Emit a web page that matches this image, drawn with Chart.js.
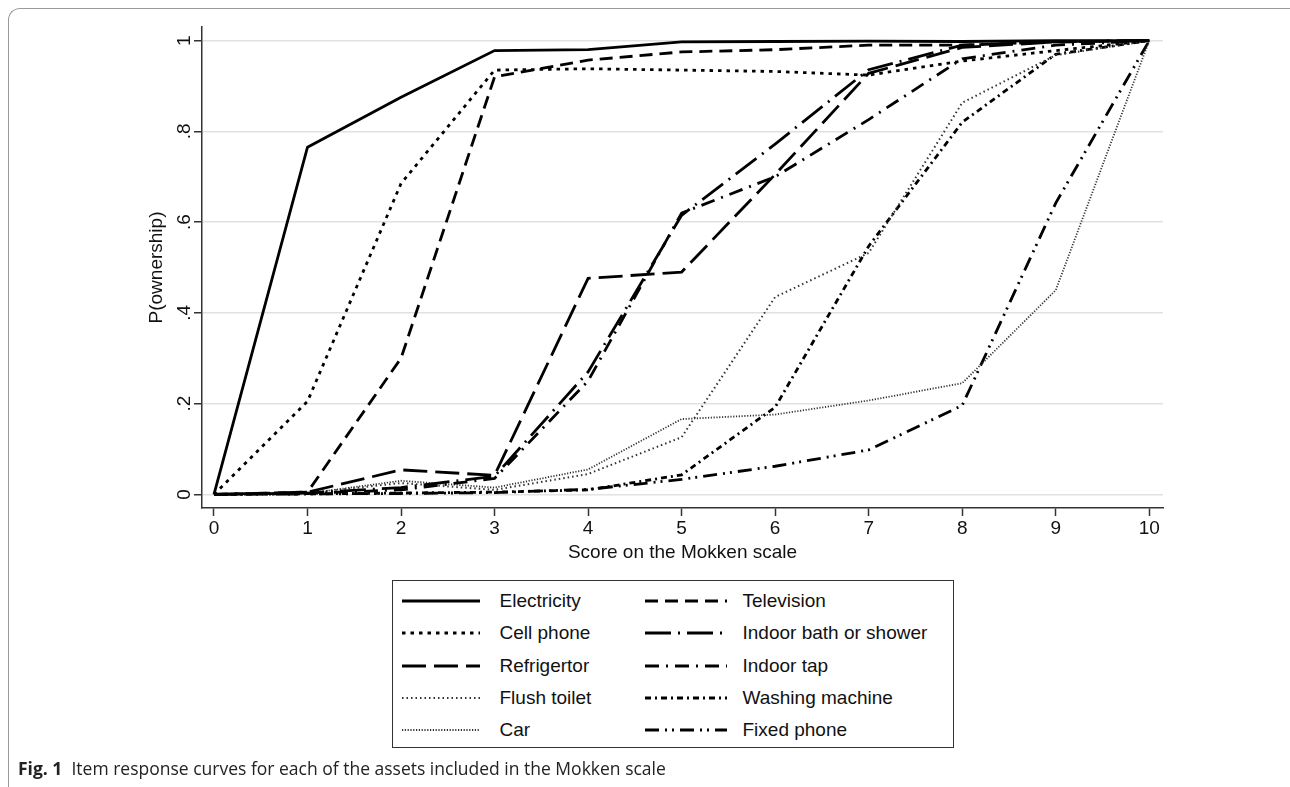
<!DOCTYPE html>
<html><head><meta charset="utf-8">
<script src="https://cdn.jsdelivr.net/npm/chart.js@4.4.1/dist/chart.umd.min.js"></script>
<style>
html,body{margin:0;padding:0;background:#fff;}
body{width:1290px;height:787px;position:relative;overflow:hidden;font-family:"Liberation Sans",Arial,sans-serif;}
#frame{position:absolute;left:8px;top:8px;width:1320px;height:820px;border-top:1px solid #9a9a9a;border-left:1px solid #9a9a9a;border-top-left-radius:12px;}
#wrap{position:absolute;left:0;top:0;width:1290px;height:787px;}
#legend{position:absolute;left:392px;top:580px;width:562px;height:168px;border:1.5px solid #333;box-sizing:border-box;background:#fff;}
.item{position:absolute;font-size:19px;color:#111;white-space:nowrap;line-height:22px;}
.sample{position:absolute;}
#caption{position:absolute;left:18px;top:756px;font-family:"Open Sans",sans-serif;font-size:17.5px;color:#222;white-space:nowrap;}
</style></head>
<body>
<div id="frame"></div>
<div id="wrap"><canvas id="c" width="1290" height="787"></canvas></div>
<div id="legend"></div>
<div id="caption"><b>Fig. 1</b>&nbsp; Item response curves for each of the assets included in the Mokken scale</div>
<script>
// ---- data ----
const scores = [0,1,2,3,4,5,6,7,8,9,10];
const xTicks = [0,1,2,3,4,5,6,7,8,9,10];
const yTicks = [0,0.2,0.4,0.6,0.8,1];
const yTickLabels = ['0','.2','.4','.6','.8','1'];
const seriesNames = ['Electricity','Television','Cell phone','Indoor bath or shower','Refrigertor','Indoor tap','Flush toilet','Washing machine','Car','Fixed phone'];
const electricity    = [0,0.765,0.875,0.978,0.980,0.997,0.998,0.999,0.998,1.000,1];
const television     = [0,0.005,0.300,0.920,0.957,0.975,0.980,0.990,0.990,0.997,1];
const cellPhone      = [0,0.205,0.685,0.935,0.938,0.935,0.932,0.924,0.955,0.978,1];
const indoorBath     = [0,0.003,0.015,0.040,0.270,0.615,0.772,0.936,0.990,0.998,1];
const refrigertor    = [0,0.005,0.054,0.042,0.476,0.490,0.705,0.928,0.985,0.997,1];
const indoorTap      = [0,0.002,0.010,0.035,0.250,0.620,0.700,0.826,0.960,0.990,1];
const flushToilet    = [0,0.003,0.025,0.010,0.045,0.126,0.435,0.532,0.863,0.968,1];
const washingMachine = [0,0.001,0.003,0.005,0.010,0.043,0.192,0.547,0.820,0.970,1];
const car            = [0,0.002,0.030,0.015,0.055,0.166,0.176,0.207,0.245,0.450,1];
const fixedPhone     = [0,0.001,0.002,0.004,0.011,0.033,0.062,0.098,0.196,0.642,1];
const seriesValues = [electricity,television,cellPhone,indoorBath,refrigertor,indoorTap,flushToilet,washingMachine,car,fixedPhone];

// ---- styles ----
const styles = [
  {dash:[], w:2.8, c:'#000'},
  {dash:[13,7], w:2.8, c:'#000'},
  {dash:[3.5,5], w:2.8, c:'#000'},
  {dash:[26,7,2,7], w:2.8, c:'#000'},
  {dash:[24,8], w:2.8, c:'#000'},
  {dash:[14,7,2,7], w:2.8, c:'#000'},
  {dash:[1.5,3], w:2, c:'#333'},
  {dash:[6,4,2,4], w:2.8, c:'#000'},
  {dash:[1.2,1.6], w:1.8, c:'#333'},
  {dash:[14,6,2,5,2,6], w:2.8, c:'#000'}
];

const F = 'Liberation Sans';
const datasets = seriesNames.map((name,k)=>({
  label:name,
  data:scores.map((x,i)=>({x:x,y:seriesValues[k][i]})),
  borderColor:styles[k].c,
  borderWidth:styles[k].w,
  borderDash:styles[k].dash,
  pointRadius:0,
  tension:0,
  fill:false
}));

new Chart(document.getElementById('c').getContext('2d'), {
  type:'line',
  data:{datasets:datasets},
  options:{
    responsive:false,
    animation:false,
    layout:{padding:{left:142,right:127,top:27,bottom:219}},
    plugins:{legend:{display:false},tooltip:{enabled:false}},
    scales:{
      x:{
        type:'linear', min:-0.128, max:10.147,
        afterBuildTicks:s=>{s.ticks = xTicks.map(v=>({value:v}));},
        afterFit:s=>{s.height=60;},
        grid:{display:true,drawOnChartArea:false,drawTicks:true,tickLength:8,tickColor:'#333',tickWidth:1.5},
        border:{display:true,color:'#333',width:1.5},
        ticks:{font:{family:F,size:19},color:'#111',padding:1,maxRotation:0,autoSkip:false,callback:(v,i)=>String(xTicks[i])},
        title:{display:true,text:'Score on the Mokken scale',font:{family:F,size:19},color:'#111',padding:{top:0,bottom:4}}
      },
      y:{
        type:'linear', min:-0.03, max:1.03,
        afterBuildTicks:s=>{s.ticks = yTicks.map(v=>({value:v}));},
        afterFit:s=>{s.width=60;},
        grid:{color:'#e1e1e1',lineWidth:1.5,drawTicks:true,tickLength:8,tickColor:'#333',tickWidth:1.5},
        border:{display:true,color:'#333',width:1.5},
        ticks:{font:{family:F,size:19},color:'#111',padding:1,minRotation:90,maxRotation:90,crossAlign:'center',autoSkip:false,callback:(v,i)=>yTickLabels[i]},
        title:{display:true,text:'P(ownership)',font:{family:F,size:19},color:'#111',padding:{top:3,bottom:0}}
      }
    }
  }
});

// ---- HTML legend built from the datasets ----
const lg = document.getElementById('legend');
const colSample = [402, 645], colText = [500, 743];
const rowY = [601.5, 633.8, 666, 698.3, 730.5];
const boxL = 392, boxT = 580;
datasets.forEach((d,i)=>{
  const r = Math.floor(i/2), c = i%2;
  const sw = c===0 ? 78 : 82;
  const svg = document.createElementNS('http://www.w3.org/2000/svg','svg');
  svg.setAttribute('width', sw); svg.setAttribute('height', 8);
  svg.setAttribute('class','sample');
  svg.style.left = (colSample[c]-boxL-1.5)+'px';
  svg.style.top = (rowY[r]-boxT-1.5-4)+'px';
  const ln = document.createElementNS('http://www.w3.org/2000/svg','line');
  ln.setAttribute('x1',0); ln.setAttribute('x2',sw); ln.setAttribute('y1',4); ln.setAttribute('y2',4);
  ln.setAttribute('stroke', d.borderColor); ln.setAttribute('stroke-width', d.borderWidth);
  if (d.borderDash.length) ln.setAttribute('stroke-dasharray', d.borderDash.join(' '));
  svg.appendChild(ln); lg.appendChild(svg);
  const t = document.createElement('div');
  t.className='item'; t.textContent = d.label;
  t.style.left = (colText[c]-boxL-1.5)+'px';
  t.style.top = (rowY[r]-boxT-1.5-11)+'px';
  lg.appendChild(t);
});
</script>
</body></html>
